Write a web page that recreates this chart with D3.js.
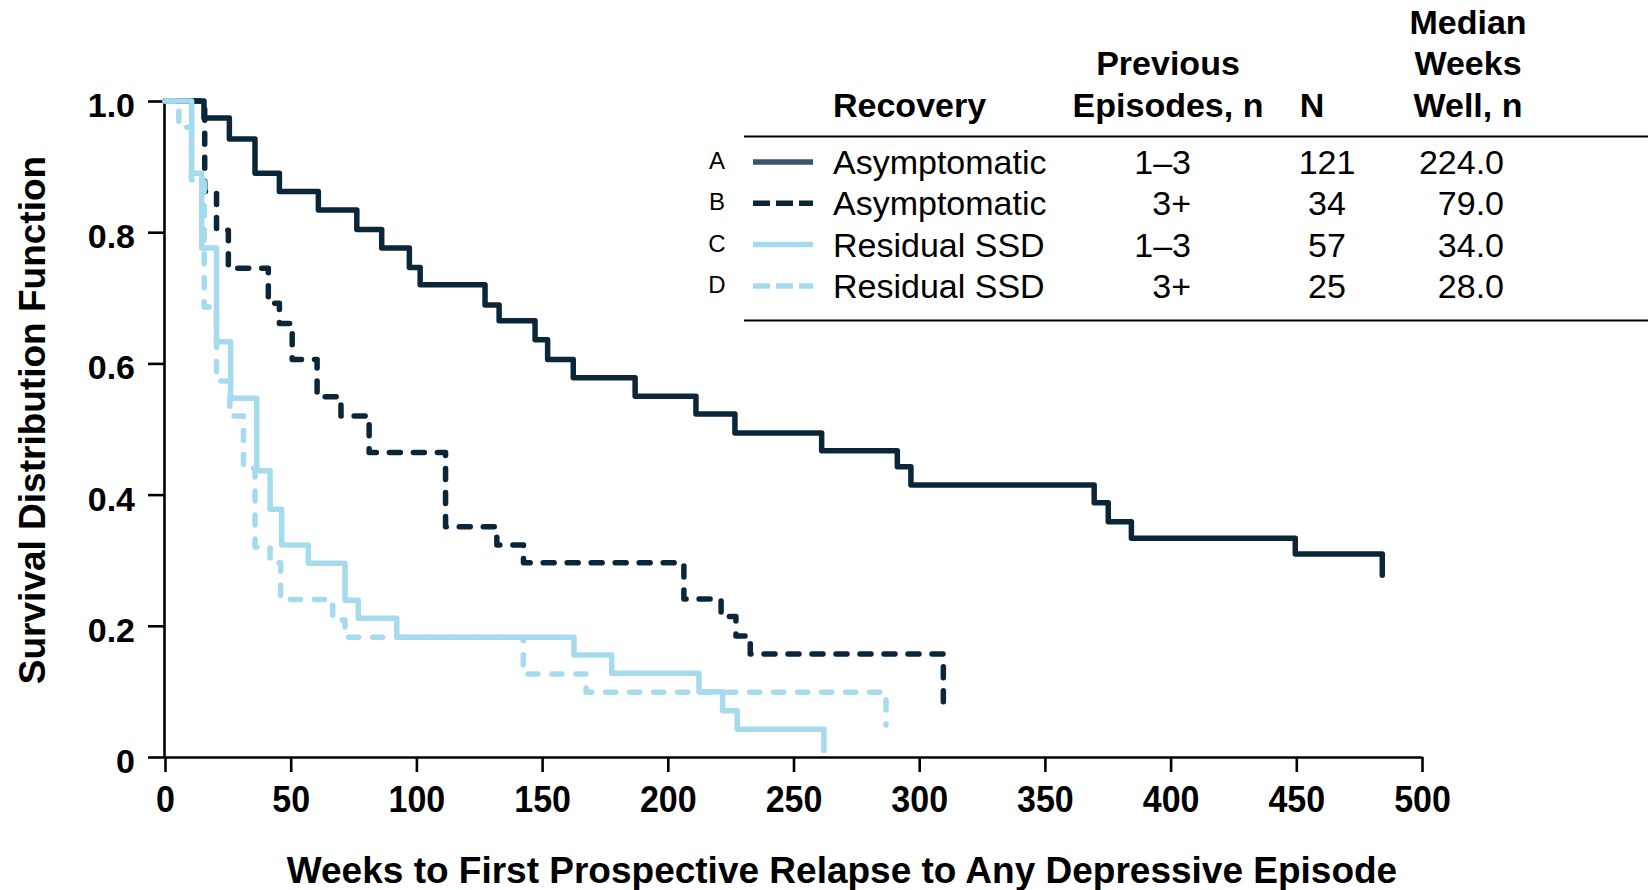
<!DOCTYPE html>
<html>
<head>
<meta charset="utf-8">
<script src="https://cdn.jsdelivr.net/npm/d3@7"></script>
<style>
  html, body { margin: 0; padding: 0; background: #fff; }
  svg { display: block; font-family: "Liberation Sans", Arial, sans-serif; }
</style>
</head>
<body>
<svg id="chart" width="1648" height="890"></svg>
<script>
// Kaplan-Meier steps: [week, survival after the event at that week]
const seriesA = [[0,1],[15.5,0.974],[25.6,0.942],[35.8,0.89],[45.5,0.862],[61,0.834],[76.3,0.804],[86.2,0.776],[97.2,0.746],[101.5,0.72],[127.3,0.689],[132.9,0.665],[147.2,0.636],[152.2,0.606],[162.4,0.578],[187,0.55],[211.2,0.523],[226.7,0.494],[261.2,0.467],[291.3,0.4425],[296.7,0.4146],[369.6,0.3877],[375.2,0.3587],[384.4,0.3333],[449.6,0.3095],[484.2,0.277]];
const seriesB = [[0,1],[15.8,0.862],[20.5,0.803],[25.2,0.745],[41.1,0.6916],[45.5,0.661],[50.6,0.606],[60.5,0.549],[70,0.52],[81.2,0.464],[111.6,0.351],[132,0.323],[142.6,0.296],[206.4,0.241],[221.2,0.214],[227.1,0.1845],[232.8,0.157],[309.6,0.074]];
const seriesC = [[0,1],[10.6,0.89],[14.6,0.776],[20.5,0.633],[26.1,0.547],[36.5,0.4365],[41.8,0.3776],[46.4,0.3232],[57,0.2953],[71.6,0.239],[76.9,0.2114],[92.2,0.1825],[162.7,0.1555],[177.7,0.1276],[212.4,0.0996],[221.8,0.0706],[227.6,0.0422],[262.1,0.01]];
const seriesD = [[0,1],[5.5,0.96],[10.5,0.88],[15.6,0.686],[20.5,0.573],[25.8,0.52],[31.2,0.44],[35.8,0.32],[41.8,0.296],[46,0.24],[66.7,0.209],[71.6,0.1825],[142.5,0.1265],[167.5,0.0986],[286.8,0.0488]];

const xTicks = [0,50,100,150,200,250,300,350,400,450,500];
const yTicks = [0,0.2,0.4,0.6,0.8,1.0];
const yTickLabels = ["0","0.2","0.4","0.6","0.8","1.0"];

const legendKeys = ["A","B","C","D"];
const recoveryLabels = ["Asymptomatic","Asymptomatic","Residual SSD","Residual SSD"];
const episodeLabels = ["1\u20133","3+","1\u20133","3+"];
const nValues = [121,34,57,25];
const medianWeeks = [224.0,79.0,34.0,28.0];

const DARK = "#0b2639";
const LIGHT = "#a6dbee";

const svg = d3.select("#chart");
const x = d3.scaleLinear().domain([0,500]).range([165,1422]);
const y = d3.scaleLinear().domain([0,1]).range([757,101]);

// axes
const xAxis = svg.append("g").attr("transform","translate(0,757)")
  .call(d3.axisBottom(x).tickValues(xTicks).tickSize(15).tickSizeOuter(0).tickPadding(0).tickFormat(d3.format("d")));
const yAxis = svg.append("g").attr("transform","translate(164,0)")
  .call(d3.axisLeft(y).tickValues(yTicks).tickSize(16).tickSizeOuter(0).tickPadding(0)
    .tickFormat((d,i) => yTickLabels[i]));
[xAxis,yAxis].forEach(g => {
  g.selectAll("path.domain").attr("stroke","#000").attr("stroke-width",2.6);
  g.selectAll(".tick line").attr("stroke","#000").attr("stroke-width",2.6);
});
xAxis.selectAll(".tick text")
  .attr("y",null).attr("dy",null)
  .attr("transform","translate(0,55) scale(1,1.08)")
  .attr("fill","#000").attr("font-size",34).attr("font-weight","bold")
  .attr("font-family","'Liberation Sans', Arial, sans-serif");
yAxis.selectAll(".tick text")
  .attr("x",-29).attr("dy",null).attr("y",15.5)
  .attr("fill","#000").attr("font-size",34).attr("font-weight","bold")
  .attr("font-family","'Liberation Sans', Arial, sans-serif");

// axis titles
svg.append("text")
  .attr("x",842).attr("y",883).attr("text-anchor","middle")
  .attr("font-size",37).attr("font-weight","bold")
  .text("Weeks to First Prospective Relapse to Any Depressive Episode");
svg.append("text")
  .attr("transform","translate(45,420) rotate(-90)")
  .attr("text-anchor","middle")
  .attr("font-size",37).attr("font-weight","bold")
  .text("Survival Distribution Function");

// survival curves
const line = d3.line().x(d => x(d[0])).y(d => y(d[1])).curve(d3.curveStepAfter);
const curves = [
  {data: seriesA, color: DARK, dash: null},
  {data: seriesB, color: DARK, dash: "11 13"},
  {data: seriesC, color: LIGHT, dash: null},
  {data: seriesD, color: LIGHT, dash: "10 14"}
];
svg.append("g").selectAll("path").data(curves).join("path")
  .attr("d", d => line(d.data))
  .attr("fill","none")
  .attr("stroke", d => d.color)
  .attr("stroke-width",5.5)
  .attr("stroke-linejoin","round")
  .attr("stroke-linecap","round")
  .attr("stroke-dasharray", d => d.dash);

// legend table
const legend = svg.append("g").attr("font-family","'Liberation Sans', Arial, sans-serif");
const header = [
  {lines:["Recovery"], x:833, anchor:"start"},
  {lines:["Previous","Episodes, n"], x:1168, anchor:"middle"},
  {lines:["N"], x:1312, anchor:"middle"},
  {lines:["Median","Weeks","Well, n"], x:1468, anchor:"middle"}
];
const headerBase = 116.5, headerStep = 41.5;
header.forEach(h => {
  h.lines.forEach((t,i) => {
    legend.append("text")
      .attr("x",h.x).attr("y",headerBase - (h.lines.length-1-i)*headerStep)
      .attr("text-anchor",h.anchor)
      .attr("font-size",34).attr("font-weight","bold")
      .text(t);
  });
});
legend.append("line").attr("x1",744).attr("x2",1648).attr("y1",136.5).attr("y2",136.5)
  .attr("stroke","#000").attr("stroke-width",2.2);
legend.append("line").attr("x1",744).attr("x2",1648).attr("y1",320.5).attr("y2",320.5)
  .attr("stroke","#000").attr("stroke-width",2.2);

const sampleColors = ["#3a566c", DARK, LIGHT, LIGHT];
const sampleDash = [null, "17 6", null, "17 6"];
const rowBase = 174, rowStep = 41.3;
legendKeys.forEach((k,i) => {
  const yb = rowBase + i*rowStep;
  legend.append("text").attr("x",717).attr("y",yb-5).attr("text-anchor","middle")
    .attr("font-size",24).text(k);
  legend.append("line").attr("x1",753).attr("x2",813).attr("y1",yb-12).attr("y2",yb-12)
    .attr("stroke",sampleColors[i]).attr("stroke-width",5.5)
    .attr("stroke-dasharray",sampleDash[i]);
  legend.append("text").attr("x",833).attr("y",yb).attr("font-size",34).text(recoveryLabels[i]);
  legend.append("text").attr("x",1191).attr("y",yb).attr("text-anchor","end").attr("font-size",34).text(episodeLabels[i]);
  legend.append("text").attr("x",1327).attr("y",yb).attr("text-anchor","middle").attr("font-size",34).text(nValues[i]);
  legend.append("text").attr("x",1504).attr("y",yb).attr("text-anchor","end").attr("font-size",34).text(d3.format(".1f")(medianWeeks[i]));
});
</script>
</body>
</html>
